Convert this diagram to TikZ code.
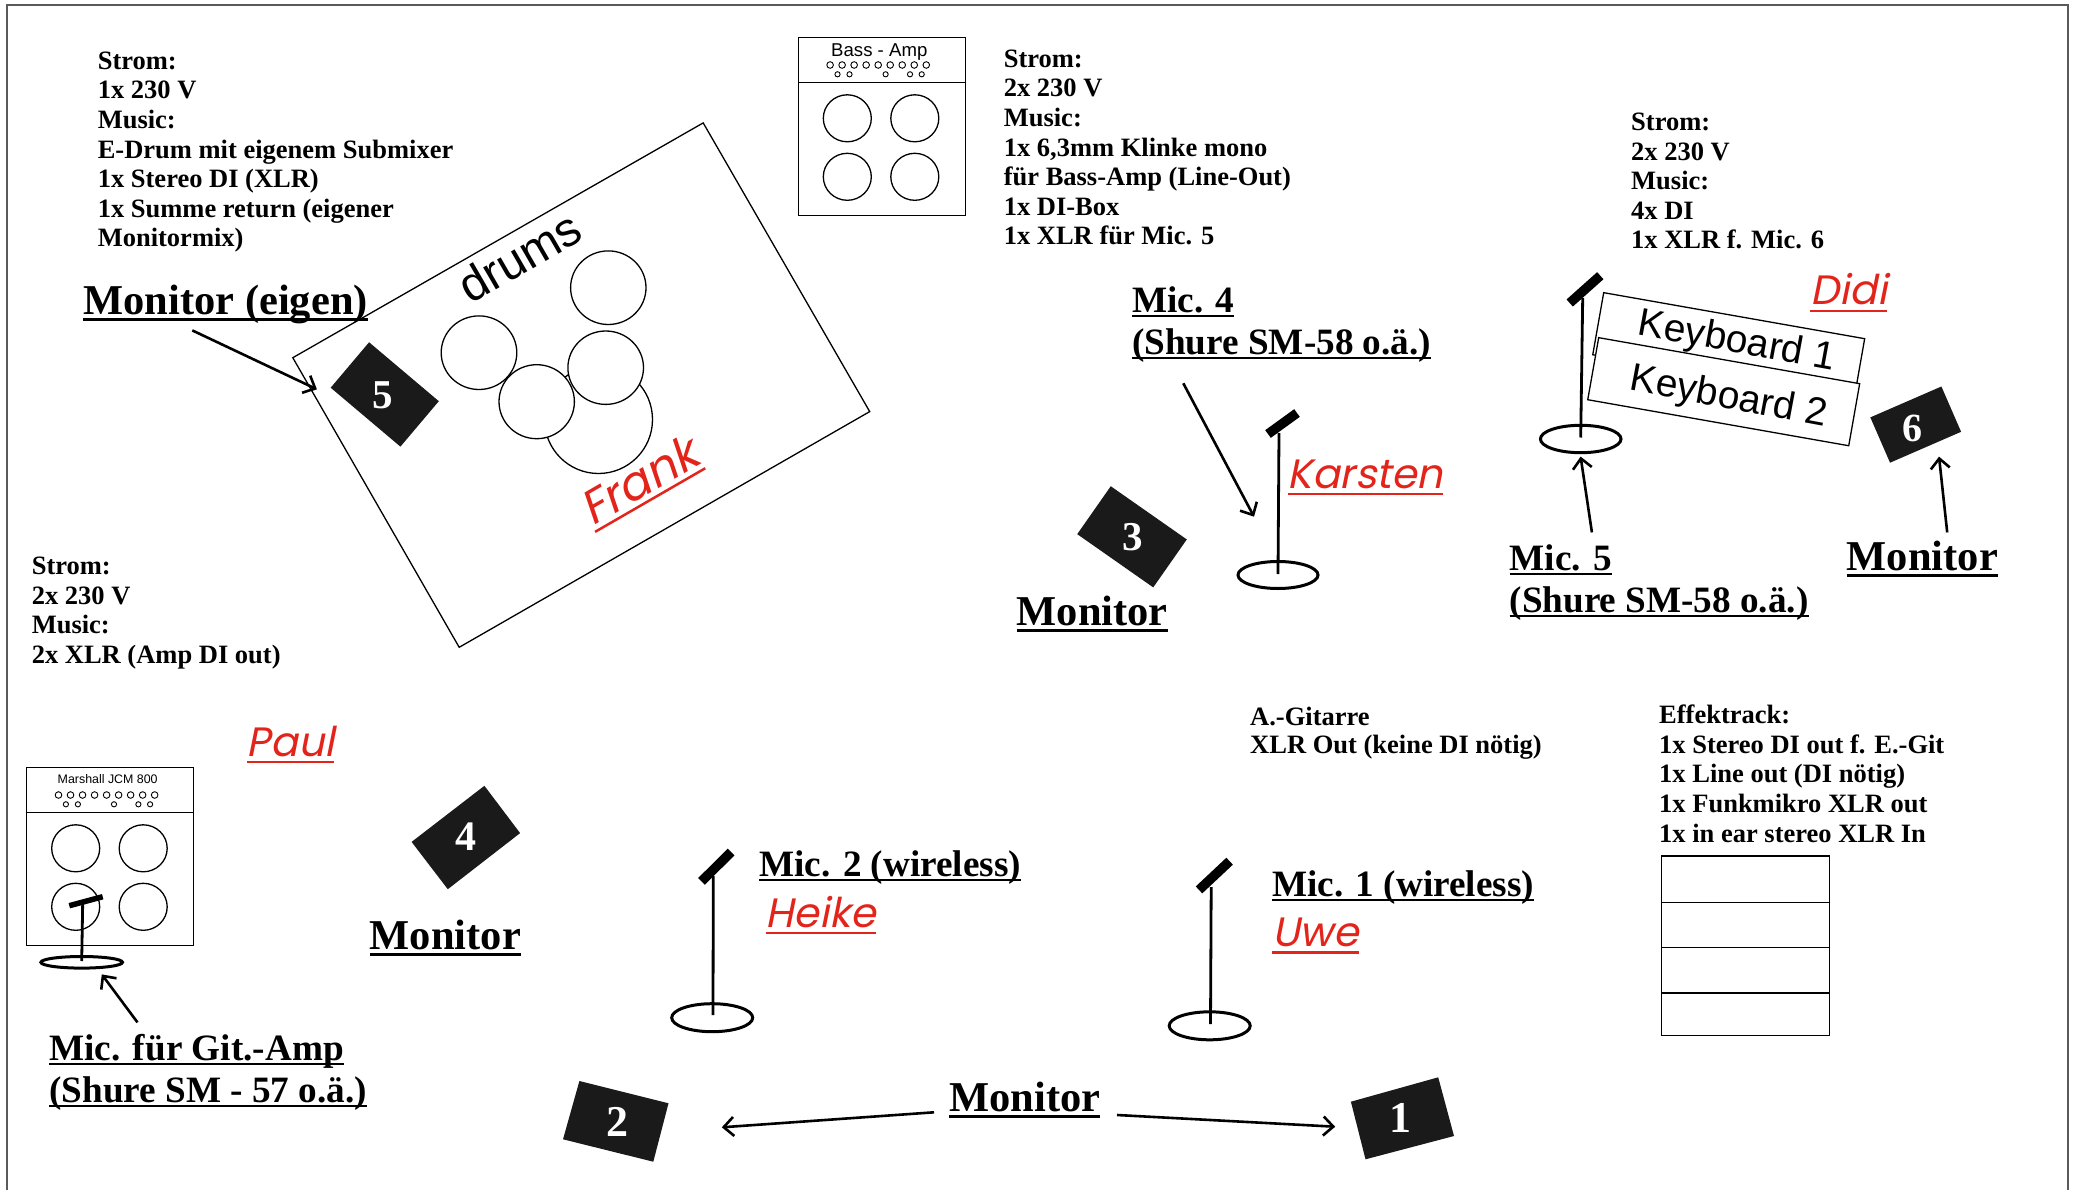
\documentclass[tikz,border=0pt]{standalone}
\usepackage{fontspec}
\setmainfont{Liberation Serif}
\newfontfamily\sansfnt{Liberation Sans}
\newfontfamily\namefnt{Poppins}[FakeSlant=0.2]
\usetikzlibrary{arrows.meta}
\definecolor{namered}{HTML}{E3241B}
\definecolor{monblack}{HTML}{1A1A1A}
\definecolor{framegray}{HTML}{5A5A5A}
\newcommand\ulined[3]{\setbox0=\hbox{#3}\rlap{\rule[-#1]{\wd0}{#2}}\box0}
\newcommand\ulbig[1]{\ulined{6.5pt}{2.8pt}{#1}}
\newcommand\ulmic[1]{\ulined{4.8pt}{2.6pt}{#1}}
\newcommand\ulname[1]{\ulined{7pt}{2.5pt}{#1}}
\newcommand\textlines[1]{\vtop{\halign{##\hfil\cr#1\crcr}}}
% amp cabinet: #1 x, #2 y (top left), #3 node name, #4 font size, #5 label baseline, #6 label
\newcommand\drawamp[6]{%
  \begin{scope}[shift={(#1,#2)}]
    \draw[thinline] (0,0) rectangle (167,178);
    \draw[thinline] (0,45.4) -- (167,45.4);
    \foreach \i in {0,...,8} \draw[knob] (31.8+12.02*\i,27.7) circle[radius=3.3];
    \foreach \k in {39.2,51.2,87.3,111.7,123.4} \draw[knob] (\k,37) circle[radius=2.6];
    \foreach \cx/\cy in {49/81,116.5/81,49/139.5,116.5/139.5}
      \draw[thinline] (\cx,\cy) ellipse[x radius=24,y radius=23.5];
    \node[anchor=base, inner sep=0pt, font=\fontsize{#4}{#4}\selectfont\sansfnt] (#3) at (81,#5) {#6};
  \end{scope}}
\begin{document}
\begin{tikzpicture}[x=1pt,y=-1pt,
  thinline/.style={line width=1.3pt, draw=black},
  knob/.style={line width=0.9pt, draw=black},
  infotext/.style={anchor=base west, inner sep=0pt, font=\fontsize{26.5}{29.6}\selectfont\bfseries},
  montext/.style={anchor=base west, inner sep=0pt, font=\fontsize{42.5}{46}\selectfont\bfseries},
  mictext/.style={anchor=base west, inner sep=0pt, font=\fontsize{37.2}{42}\selectfont\bfseries},
  nametext/.style={anchor=base west, inner sep=0pt, text=namered, font=\fontsize{41}{46}\selectfont\namefnt},
  kbtext/.style={anchor=base, inner sep=0pt, font=\fontsize{39}{40}\selectfont\sansfnt},
  kbbox/.style={draw=black, line width=1.3pt, fill=white, minimum width=265pt, minimum height=63pt, inner sep=0pt},
  monbox/.style={fill=monblack, draw=none, inner sep=0pt},
  monnum/.style={text=white, inner sep=0pt, font=\fontsize{41}{41}\selectfont\bfseries},
  pointer/.style={line width=2.6pt, -{Straight Barb[length=10pt,width=19pt,line width=2.6pt]}},
  stand/.style={line width=2.8pt},
  standbase/.style={line width=3pt},
  michead/.style={line width=9.5pt, line cap=butt},
]
\useasboundingbox (0,0) rectangle (2087,1190);
\fill[white] (0,0) rectangle (2087,1190);
\draw[line width=2pt, draw=framegray] (6.9,1200) -- (6.9,5) -- (2067.6,5) -- (2067.6,1200);

% ---------- drum riser ----------
\draw[thinline] (703.2,122.9) -- (869.7,411.6) -- (459.2,647.3) -- (292.8,357.7) -- cycle;
\draw[thinline, fill=white] (598.5,419.5) circle[radius=54];
\draw[thinline, fill=white] (479,352.7) ellipse[x radius=37.8, y radius=36.8];
\draw[thinline, fill=white] (608.3,287.7) ellipse[x radius=37.7, y radius=36.8];
\draw[thinline, fill=white] (605.7,367.7) ellipse[x radius=37.8, y radius=36.7];
\draw[thinline, fill=white] (536.7,401.7) ellipse[x radius=37.7, y radius=37];
\node[anchor=base west, inner sep=0pt, rotate=30, font=\fontsize{48}{48}\selectfont\sansfnt] (drumslbl) at (470,305) {drums};
\node[nametext, rotate=30, font=\fontsize{47}{50}\selectfont\namefnt] (frank) at (592,527) {\ulname{Frank}};
\node[monbox, minimum width=91.3pt, minimum height=59.5pt, rotate=-40.2] (mon5) at (384.75,394.45) {};
\node[monnum] (n5) at (382.5,395.3) {5};

% ---------- info texts ----------
\node[infotext] (info1) at (97.6,69.4) {\textlines{Strom:\cr 1x 230 V\cr Music:\cr E-Drum mit eigenem Submixer\cr 1x Stereo DI (XLR)\cr 1x Summe return (eigener\cr Monitormix)}};
\node[infotext] (info2) at (1003.6,67.3) {\textlines{Strom:\cr 2x 230 V\cr Music:\cr 1x 6,3mm Klinke mono\cr für Bass-Amp (Line-Out)\cr 1x DI-Box\cr 1x XLR für Mic. 5}};
\node[infotext] (info3) at (1631,130.5) {\textlines{Strom:\cr 2x 230 V\cr Music:\cr 4x DI\cr 1x XLR f. Mic. 6}};
\node[infotext] (info4) at (31.6,574.5) {\textlines{Strom:\cr 2x 230 V\cr Music:\cr 2x XLR (Amp DI out)}};
\node[infotext, font=\fontsize{26.5}{28}\selectfont\bfseries] (info5) at (1250,725.9) {\textlines{A.-Gitarre\cr XLR Out (keine DI nötig)}};
\node[infotext] (info6) at (1659,723.6) {\textlines{Effektrack:\cr 1x Stereo DI out f. E.-Git\cr 1x Line out (DI nötig)\cr 1x Funkmikro XLR out\cr 1x in ear stereo XLR In}};

% ---------- amps ----------
\drawamp{798.3}{37.3}{bassamp}{18.6}{19.4}{Bass - Amp}
\drawamp{26.7}{767.3}{marshall}{12.4}{16}{Marshall JCM 800}

% ---------- effect rack ----------
\draw[thinline] (1661.4,856.1) rectangle (1829.6,1035.3);
\draw[thinline] (1661.4,902.4) -- (1829.6,902.4);
\draw[thinline] (1661.4,947.7) -- (1829.6,947.7);
\draw[thinline] (1661.4,993) -- (1829.6,993);

% ---------- labels ----------
\node[montext] (moneigen) at (83.2,314) {\ulbig{Monitor (eigen)}};
\node[mictext] (mic4) at (1132,312.3) {\textlines{\ulmic{Mic. 4}\cr\ulmic{(Shure SM-58 o.ä.)}}};
\node[mictext] (mic5) at (1509.4,570.3) {\textlines{\ulmic{Mic. 5}\cr\ulmic{(Shure SM-58 o.ä.)}}};
\node[mictext] (micgit) at (49.1,1060.6) {\textlines{\ulmic{Mic. für Git.-Amp}\cr\ulmic{(Shure SM - 57 o.ä.)}}};
\node[mictext] (mic2) at (759.2,876.4) {\ulmic{Mic. 2 (wireless)}};
\node[mictext] (mic1) at (1272,896.6) {\ulmic{Mic. 1 (wireless)}};
\node[montext] (monlbl3) at (1016.5,625) {\ulbig{Monitor}};
\node[montext] (monlbl6) at (1846.6,570) {\ulbig{Monitor}};
\node[montext] (monlbl4) at (369.6,949) {\ulbig{Monitor}};
\node[montext] (monlblb) at (949,1111.7) {\ulbig{Monitor}};

\node[nametext] (karsten) at (1287.3,488.3) {\ulname{Karsten}};
\node[nametext] (didi) at (1810,305) {\ulname{Didi}};
\node[nametext] (paul) at (246.4,756.3) {\ulname{Paul}};
\node[nametext] (heike) at (765.3,927) {\ulname{Heike}};
\node[nametext] (uwe) at (1272,946.7) {\ulname{Uwe}};

% ---------- keyboards ----------
\node[kbbox, rotate=-10] (kb1) at (1728.7,346.7) {};
\node[kbtext, rotate=-10.3] (kb1t) at (1735,352.5) {Keyboard 1};
\node[kbbox, rotate=-10] (kb2) at (1723.7,391.7) {};
\node[kbtext, rotate=-10.6] (kb2t) at (1726.7,408.3) {Keyboard 2};

% ---------- monitors ----------
\node[monbox, minimum width=92.8pt, minimum height=58.5pt, rotate=-35] (mon3) at (1132,536.8) {};
\node[monnum] (n3) at (1132.7,537.5) {3};
\node[monbox, minimum width=77.5pt, minimum height=49.4pt, rotate=23.5] (mon6) at (1915.7,424.6) {};
\node[monnum, font=\fontsize{40}{40}\selectfont\bfseries] (n6) at (1912.2,428.8) {6};
\fill[monblack] (484.4,785.8) -- (520.1,833.1) -- (447.8,889.2) -- (411.6,841.9) -- cycle;
\node[monnum, font=\fontsize{42}{42}\selectfont\bfseries] (n4) at (465.6,836.5) {4};
\fill[monblack] (579.4,1081) -- (668.5,1103.3) -- (653.3,1161.7) -- (563,1139.3) -- cycle;
\node[monnum, font=\fontsize{44}{44}\selectfont\bfseries] (n2) at (617.3,1122) {2};
\fill[monblack] (1350.9,1101.7) -- (1438.2,1077.3) -- (1454,1136) -- (1365.5,1159.3) -- cycle;
\node[monnum, font=\fontsize{44}{44}\selectfont\bfseries] (n1) at (1400.6,1118.3) {1};

% ---------- mic stands ----------
% Mic 4 (Karsten)
\draw[michead] (1268,434) -- (1297,413);
\draw[stand] (1279,433) -- (1278,574);
\draw[standbase] (1278,575) ellipse[x radius=40, y radius=13.5];
% Mic 5 (Didi)
\draw[michead] (1569.7,303) -- (1600.3,275.7);
\draw[stand] (1582.7,298) -- (1580.7,437.5);
\draw[standbase] (1580.7,439) ellipse[x radius=40.3, y radius=13.7];
% Mic 2 (Heike)
\draw[michead] (701.5,881.4) -- (731.1,852);
\draw[stand] (713.3,876) -- (713,1015);
\draw[standbase] (712.2,1017.7) ellipse[x radius=40.5, y radius=14];
% Mic 1 (Uwe)
\draw[michead] (1199,889.9) -- (1229.6,861.2);
\draw[stand] (1211.2,887) -- (1210.5,1024);
\draw[standbase] (1209.7,1025.8) ellipse[x radius=40.5, y radius=14];
% Git-amp mic
\draw[line width=5.5pt] (69.3,905.7) -- (102.7,896.7);
\draw[stand] (82.7,903) -- (81.7,961);
\draw[standbase] (81.7,962.3) ellipse[x radius=40.8, y radius=5.8];

% ---------- pointers ----------
\coordinate (pEigA) at (192.3,330.4);
\coordinate (pEigB) at (316.9,389.3);
\draw[pointer] (pEigA) -- (pEigB);
\coordinate (pM4A) at (1183.3,383.3);
\coordinate (pM4B) at (1254,516.7);
\draw[pointer] (pM4A) -- (pM4B);
\coordinate (pM5A) at (1591.9,532.4);
\coordinate (pM5B) at (1580.6,456.6);
\draw[pointer] (pM5A) -- (pM5B);
\coordinate (pM6A) at (1947.2,532.4);
\coordinate (pM6B) at (1939,456.6);
\draw[pointer] (pM6A) -- (pM6B);
\coordinate (pGitA) at (137.5,1022.4);
\coordinate (pGitB) at (101.8,974.4);
\draw[pointer] (pGitA) -- (pGitB);
\coordinate (pBLA) at (934,1112.3);
\coordinate (pBLB) at (721.8,1127.3);
\draw[pointer] (pBLA) -- (pBLB);
\coordinate (pBRA) at (1117,1115);
\coordinate (pBRB) at (1335.2,1126.7);
\draw[pointer] (pBRA) -- (pBRB);
\end{tikzpicture}
\end{document}
